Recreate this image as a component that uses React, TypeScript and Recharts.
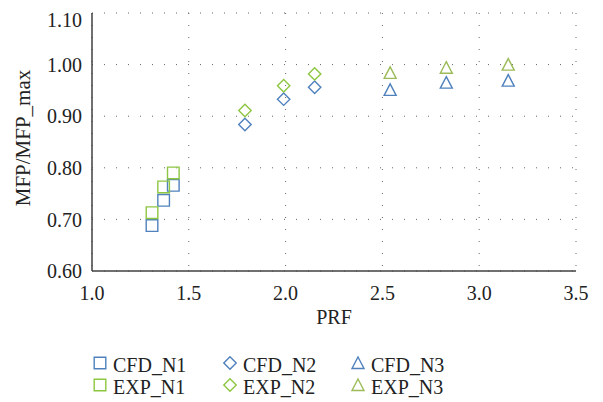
import React from "react";
import { ScatterChart, Scatter, XAxis, YAxis, CartesianGrid, Label } from "recharts";

const prfN1 = [1.31, 1.37, 1.42];
const cfdN1 = [0.688, 0.737, 0.766];
const expN1 = [0.713, 0.763, 0.79];
const prfN2 = [1.79, 1.99, 2.15];
const cfdN2 = [0.884, 0.933, 0.956];
const expN2 = [0.911, 0.959, 0.982];
const prfN3 = [2.54, 2.83, 3.15];
const cfdN3 = [0.951, 0.965, 0.969];
const expN3 = [0.984, 0.994, 1.0];

const xTicks = [1.0, 1.5, 2.0, 2.5, 3.0, 3.5];
const yTicks = [0.6, 0.7, 0.8, 0.9, 1.0, 1.1];

const BLUE = "#4F81BD";
const GREEN = "#8DC641";
const OLIVE = "#9BBB59";
const FONT = "'Liberation Serif', 'Times New Roman', serif";

const toPts = (xs: number[], ys: number[]) => xs.map((x, i) => ({ x, y: ys[i] }));

type Kind = "square" | "diamond" | "triangle";

const markerPath = (kind: Kind, cx: number, cy: number) => {
  if (kind === "square") {
    const h = 5.8;
    return `M${cx - h},${cy - h}H${cx + h}V${cy + h}H${cx - h}Z`;
  }
  if (kind === "diamond") {
    const h = 6.2;
    return `M${cx},${cy - h}L${cx + h},${cy}L${cx},${cy + h}L${cx - h},${cy}Z`;
  }
  return `M${cx},${cy - 6}L${cx + 6},${cy + 5.5}L${cx - 6},${cy + 5.5}Z`;
};

const makeShape = (kind: Kind, color: string) => (props: any) => {
  const { cx, cy } = props;
  if (cx == null || cy == null) return <g />;
  return <path d={markerPath(kind, cx, cy)} fill="none" stroke={color} strokeWidth={1.4} />;
};

const series = [
  { name: "CFD_N1", data: toPts(prfN1, cfdN1), kind: "square" as Kind, color: BLUE },
  { name: "EXP_N1", data: toPts(prfN1, expN1), kind: "square" as Kind, color: GREEN },
  { name: "CFD_N2", data: toPts(prfN2, cfdN2), kind: "diamond" as Kind, color: BLUE },
  { name: "EXP_N2", data: toPts(prfN2, expN2), kind: "diamond" as Kind, color: GREEN },
  { name: "CFD_N3", data: toPts(prfN3, cfdN3), kind: "triangle" as Kind, color: BLUE },
  { name: "EXP_N3", data: toPts(prfN3, expN3), kind: "triangle" as Kind, color: OLIVE },
];

const legendRows = [
  ["CFD_N1", "CFD_N2", "CFD_N3"],
  ["EXP_N1", "EXP_N2", "EXP_N3"],
];

const Legend = () => {
  const colX = [92, 222, 350];
  const rowY = [355, 377];
  return (
    <svg width={595} height={394} style={{ position: "absolute", left: 0, top: 0, pointerEvents: "none" }}>
      {legendRows.map((row, r) =>
        row.map((name, c) => {
          const s = series.find((q) => q.name === name)!;
          return (
            <g key={name}>
              <path d={markerPath(s.kind, colX[c], rowY[r])} fill="none" stroke={s.color} strokeWidth={1.4} />
              <text x={colX[c] + 13} y={rowY[r] + 8.5} fontFamily={FONT} fontSize={20} fill="#222">
                {name}
              </text>
            </g>
          );
        })
      )}
    </svg>
  );
};

const YTitle = (props: any) => {
  const vb = props.viewBox || { x: 0, y: 0, width: 84, height: 250 };
  const x = vb.x + 22;
  const y = vb.y + vb.height / 2 - 4;
  return (
    <text x={x} y={y} transform={`rotate(-90 ${x} ${y})`} textAnchor="middle" fontFamily={FONT} fontSize={21} fill="#222">
      MFP/MFP_max
    </text>
  );
};

export default function App() {
  return (
    <div style={{ position: "relative", width: 595, height: 394 }}>
      <ScatterChart width={595} height={330} margin={{ top: 5, right: 27, left: 0, bottom: 12 }}>
        <CartesianGrid stroke="#666" strokeDasharray="1 11" strokeWidth={1} />
        <XAxis
          type="number"
          dataKey="x"
          domain={[1, 3.5]}
          ticks={xTicks}
          tickFormatter={(v: number) => v.toFixed(1)}
          height={55}
          tickLine={false}
          tickMargin={9}
          axisLine={{ stroke: "#404040", strokeWidth: 1.5 }}
          tick={{ fill: "#222", fontFamily: FONT, fontSize: 20 }}
          label={{ value: "PRF", position: "insideBottom", offset: 2, fill: "#222", fontFamily: FONT, fontSize: 20 }}
        />
        <YAxis
          type="number"
          dataKey="y"
          domain={[0.6, 1.1]}
          ticks={yTicks}
          tickFormatter={(v: number) => v.toFixed(2)}
          width={84}
          tickLine={false}
          tickMargin={4}
          axisLine={{ stroke: "#404040", strokeWidth: 1.5 }}
          tick={{ fill: "#222", fontFamily: FONT, fontSize: 20 }}
        >
          <Label content={<YTitle />} />
        </YAxis>
        {series.map((s) => (
          <Scatter
            key={s.name}
            name={s.name}
            data={s.data}
            shape={makeShape(s.kind, s.color)}
            isAnimationActive={false}
          />
        ))}
      </ScatterChart>
      <Legend />
    </div>
  );
}
